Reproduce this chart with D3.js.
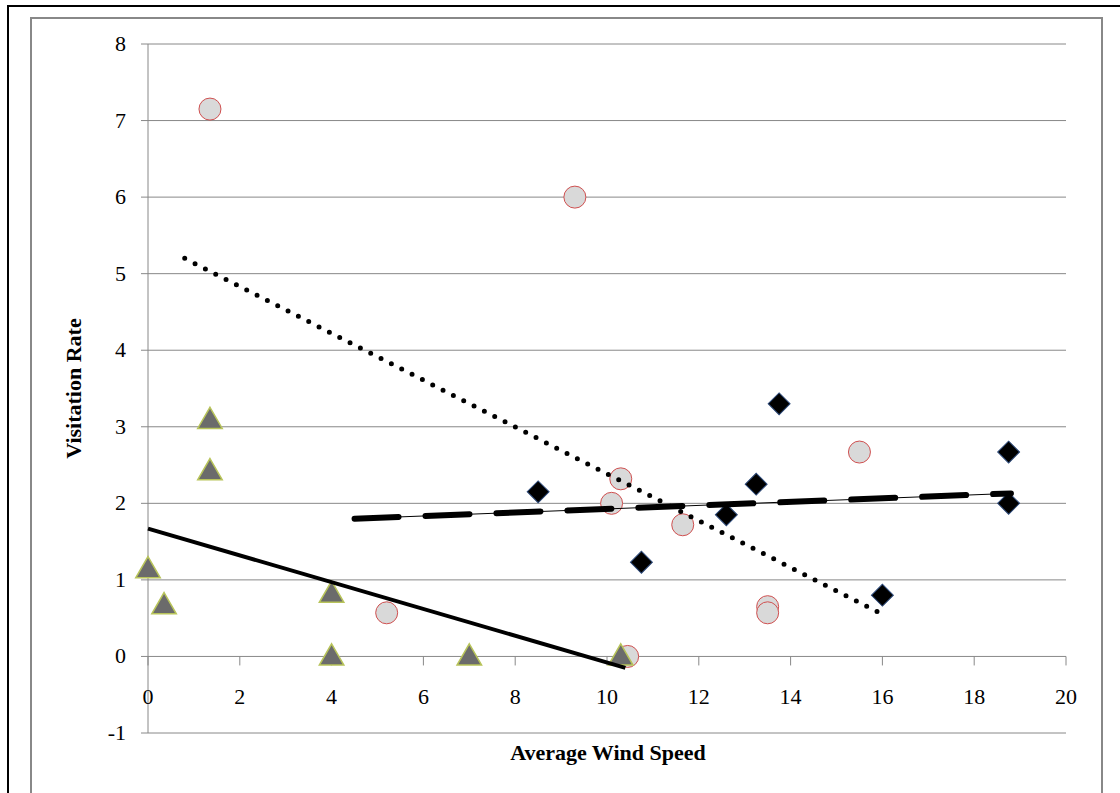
<!DOCTYPE html>
<html><head><meta charset="utf-8">
<script src="https://cdn.jsdelivr.net/npm/d3@7"></script>
<style>body{margin:0;background:#fff}svg{display:block;font-family:"Liberation Serif",serif}</style>
</head><body><svg id="c" width="1120" height="793"></svg>
<script>
const circles = [[1.35,7.15],[9.3,6.0],[10.3,2.32],[10.1,2.0],[11.65,1.72],[5.2,0.57],[10.45,0.0],[13.5,0.65],[13.5,0.57],[15.5,2.67]];
const diamonds = [[8.5,2.15],[10.75,1.23],[12.6,1.85],[13.25,2.25],[13.75,3.3],[16.0,0.8],[18.75,2.67],[18.75,2.0]];
const triangles = [[0,1.12],[0.35,0.65],[1.35,3.07],[1.35,2.4],[4.0,0.8],[4.0,-0.02],[7.0,-0.02],[10.3,-0.02]];
const dottedTrend = [[0.8,5.2],[16,0.55]];
const dashedTrend = [[4.5,1.8],[18.8,2.13]];
const solidTrend = [[0,1.67],[10.4,-0.15]];
const xTicks = d3.range(0,21,2);
const yTicks = d3.range(-1,9,1);

const svg = d3.select('#c');
svg.append('rect').attr('x',8).attr('y',6).attr('width',1120).attr('height',800).attr('fill','none').attr('stroke','#000').attr('stroke-width',2);
svg.append('rect').attr('x',31).attr('y',18).attr('width',1071).attr('height',800).attr('fill','none').attr('stroke','#888').attr('stroke-width',2);

const x = d3.scaleLinear().domain([0,20]).range([148,1066]);
const y = d3.scaleLinear().domain([-1,8]).range([733,44]);

const g = svg.append('g');
yTicks.forEach(t => {
  g.append('line').attr('x1',141).attr('x2',1066).attr('y1',y(t)).attr('y2',y(t)).attr('stroke','#888').attr('stroke-width',1);
  g.append('text').attr('x',126).attr('y',y(t)+7).attr('text-anchor','end').attr('font-size',22).text(t);
});
g.append('line').attr('x1',x(0)).attr('x2',x(0)).attr('y1',y(8)).attr('y2',y(-1)).attr('stroke','#888');
xTicks.forEach(t => {
  g.append('line').attr('x1',x(t)).attr('x2',x(t)).attr('y1',y(0)).attr('y2',y(0)+9).attr('stroke','#888');
  g.append('text').attr('x',x(t)).attr('y',y(0)+48).attr('text-anchor','middle').attr('font-size',22).text(t);
});

svg.append('text').attr('x',x(10)+1).attr('y',760).attr('text-anchor','middle').attr('font-size',22).attr('font-weight','bold').text('Average Wind Speed');
svg.append('text').attr('transform',`translate(81,${y(3.5)}) rotate(-90)`).attr('text-anchor','middle').attr('font-size',22).attr('font-weight','bold').text('Visitation Rate');

const line = d3.line().x(d=>x(d[0])).y(d=>y(d[1]));
svg.append('g').selectAll('circle').data(circles).join('circle')
  .attr('cx',d=>x(d[0])).attr('cy',d=>y(d[1])).attr('r',11)
  .attr('fill','#d9d9d9').attr('stroke','#d05050').attr('stroke-width',1);
svg.append('g').selectAll('path').data(triangles).join('path')
  .attr('transform',d=>`translate(${x(d[0])},${y(d[1])})`)
  .attr('d',d3.symbol(d3.symbolTriangle,260))
  .attr('fill','#6b6b6b').attr('stroke','#b8c45a').attr('stroke-width',1.5);
svg.append('g').selectAll('path').data(diamonds).join('path')
  .attr('transform',d=>`translate(${x(d[0])},${y(d[1])}) rotate(45)`)
  .attr('d',d3.symbol(d3.symbolSquare,240))
  .attr('fill','#000').attr('stroke','#2d4a7a').attr('stroke-width',1);

svg.append('path').attr('d',line(dottedTrend)).attr('fill','none').attr('stroke','#000')
  .attr('stroke-width',5).attr('stroke-linecap','round').attr('stroke-dasharray','0 11.6');
svg.append('path').attr('d',line(dashedTrend)).attr('fill','none').attr('stroke','#000').attr('stroke-width',1);
svg.append('path').attr('d',line(dashedTrend)).attr('fill','none').attr('stroke','#000')
  .attr('stroke-width',6).attr('stroke-linecap','round').attr('stroke-dasharray','44 27');
svg.append('path').attr('d',line(solidTrend)).attr('fill','none').attr('stroke','#000').attr('stroke-width',4);
</script></body></html>
